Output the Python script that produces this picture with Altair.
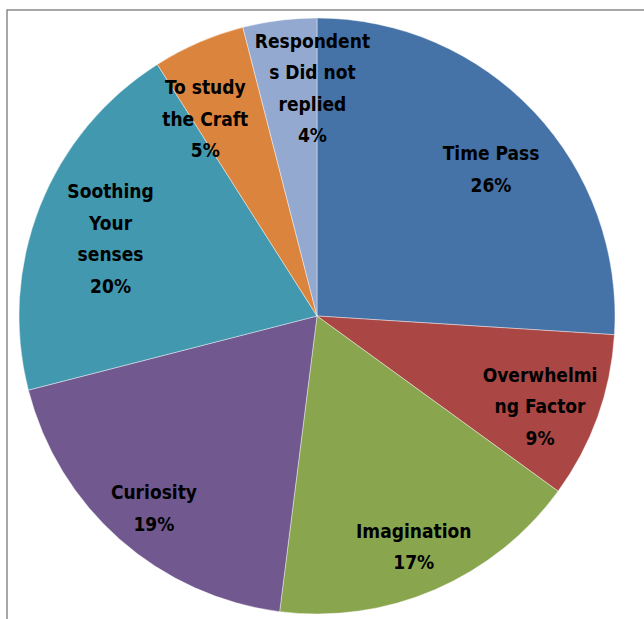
import altair as alt
import pandas as pd

categories = ["Time Pass", "Overwhelming Factor", "Imagination", "Curiosity",
              "Soothing Your senses", "To study the Craft", "Respondents Did not replied"]
wrapped = ["Time Pass", "Overwhelmi\nng Factor", "Imagination", "Curiosity",
           "Soothing\nYour\nsenses", "To study\nthe Craft", "Respondent\ns Did not\nreplied"]
percent = [26, 9, 17, 19, 20, 5, 4]
colors = ["#4572A7", "#AA4643", "#89A54E", "#71588F", "#4198AF", "#DB843D", "#93A9CF"]

df = pd.DataFrame({
    "category": categories,
    "value": percent,
    "idx": list(range(len(categories))),
    "label": [w + "\n" + str(p) + "%" for w, p in zip(wrapped, percent)],
})

CX, CY, R = 317, 316, 298
LABEL_R = 236
# per-label nudges (layout only), mimicking Excel's best-fit label placement
nudge = {
    "Time Pass": (2, 0),
    "Overwhelming Factor": (1, -20),
    "Imagination": (3, -1),
    "Curiosity": (-7, 0),
    "Soothing Your senses": (13, -37),
    "To study the Craft": (-18, -11),
    "Respondents Did not replied": (25, -40),
}

base = alt.Chart(df).encode(
    theta=alt.Theta("value:Q", stack=True),
    order=alt.Order("idx:Q"),
)

pie = base.mark_arc(radius=R, stroke="#ffffff", strokeWidth=0.6, strokeOpacity=0.7).encode(
    color=alt.Color("category:N", scale=alt.Scale(domain=categories, range=colors), legend=None),
    x=alt.value(CX), y=alt.value(CY),
)

label_layers = []
for cat in categories:
    dx, dy = nudge[cat]
    label_layers.append(
        base.mark_text(
            radius=LABEL_R, dx=dx, dy=dy,
            font="DejaVu Sans Condensed, Roboto Condensed, Roboto, sans-serif",
            fontWeight="bold", fontSize=19,
            lineBreak="\n", lineHeight=31.5, align="center", baseline="middle", color="#000000",
        ).encode(
            text="label:N", x=alt.value(CX), y=alt.value(CY),
            opacity=alt.condition(alt.datum.category == cat, alt.value(1), alt.value(0)),
        )
    )

frame = alt.Chart(pd.DataFrame({"a": [0]})).mark_rect(
    fill=None, stroke="#8a8a8a", strokeWidth=1.5
).encode(x=alt.value(7), y=alt.value(10), x2=alt.value(800), y2=alt.value(800))

chart = alt.layer(frame, pie, *label_layers).properties(
    width=644, height=619, padding=0, autosize=alt.AutoSizeParams(type="none"),
).configure_view(stroke=None)

chart.save("out.html", embed_options={"renderer": "svg", "actions": False})
